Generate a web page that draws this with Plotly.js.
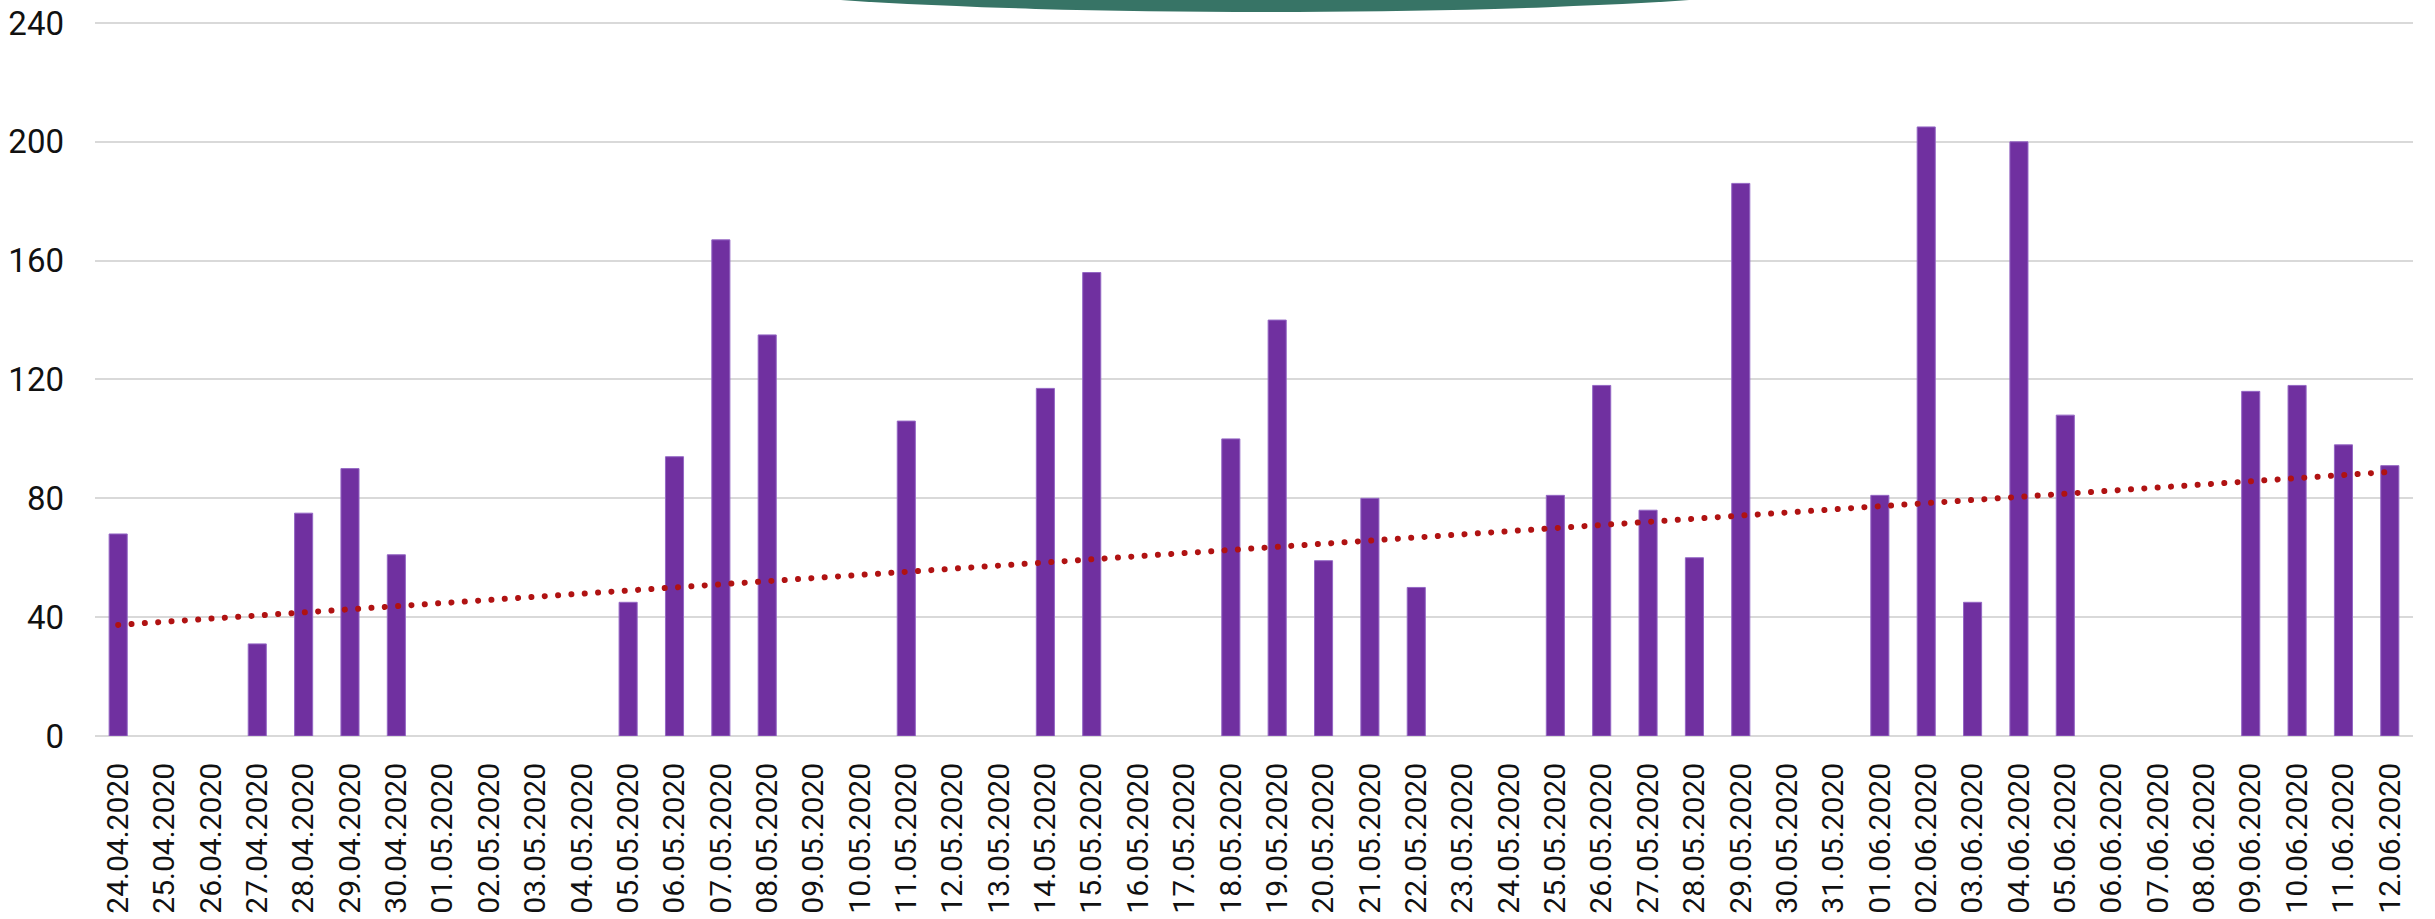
<!DOCTYPE html>
<html>
<head>
<meta charset="utf-8">
<script src="https://cdn.plot.ly/plotly-3.0.1.min.js"></script>
<style>
  html, body { margin: 0; padding: 0; background: #fff; }
  #chart { width: 2435px; height: 919px; }
  .scatterlayer .js-line { stroke-linecap: round !important; }
</style>
</head>
<body>
<div id="chart"></div>
<script>
// Categories (dates)
const dates = [
  "24.04.2020","25.04.2020","26.04.2020","27.04.2020","28.04.2020","29.04.2020","30.04.2020",
  "01.05.2020","02.05.2020","03.05.2020","04.05.2020","05.05.2020","06.05.2020","07.05.2020",
  "08.05.2020","09.05.2020","10.05.2020","11.05.2020","12.05.2020","13.05.2020","14.05.2020",
  "15.05.2020","16.05.2020","17.05.2020","18.05.2020","19.05.2020","20.05.2020","21.05.2020",
  "22.05.2020","23.05.2020","24.05.2020","25.05.2020","26.05.2020","27.05.2020","28.05.2020",
  "29.05.2020","30.05.2020","31.05.2020","01.06.2020","02.06.2020","03.06.2020","04.06.2020",
  "05.06.2020","06.06.2020","07.06.2020","08.06.2020","09.06.2020","10.06.2020","11.06.2020",
  "12.06.2020"
];

// Daily values (blank days = null)
const values = [
  68, null, null, 31, 75, 90, 61,
  null, null, null, null, 45, 94, 167,
  135, null, null, 106, null, null, 117,
  156, null, null, 100, 140, 59, 80,
  50, null, null, 81, 118, 76, 60,
  186, null, null, 81, 205, 45, 200,
  108, null, null, null, 116, 118, 98,
  91
];

// Linear trend line (at first and last date)
const trendDates = ["24.04.2020", "12.06.2020"];
const trendValues = [37.4, 88.9];

// Y axis ticks
const yTicks = [0, 40, 80, 120, 160, 200, 240];

const W = 2435, H = 919;
const mL = 95, mR = 22, mT = 20, mB = 183;
const plotW = W - mL - mR, plotH = H - mT - mB;
const px2x = p => (p - mL) / plotW;
const py2y = p => (H - mB - p) / plotH;

const traces = [
  {
    type: 'bar',
    x: dates,
    y: values,
    marker: { color: '#7030A0', line: { color: '#9467C4', width: 1 } },
    hoverinfo: 'x+y',
    showlegend: false
  },
  {
    type: 'scatter',
    mode: 'lines',
    x: trendDates,
    y: trendValues,
    line: { color: '#B01212', width: 6, dash: '0.01px,13.35px' },
    hoverinfo: 'skip',
    showlegend: false
  }
];

const layout = {
  width: W,
  height: H,
  margin: { l: mL, r: mR, t: mT, b: mB, pad: 0 },
  paper_bgcolor: '#ffffff',
  plot_bgcolor: '#ffffff',
  bargap: 0.61,
  showlegend: false,
  font: { family: 'Roboto, Liberation Sans, sans-serif', color: '#111111' },
  xaxis: {
    type: 'category',
    categoryorder: 'array',
    categoryarray: dates,
    tickangle: -90,
    tickfont: { family: 'Roboto, sans-serif', size: 30, color: '#111111' },
    showgrid: false,
    showline: false,
    zeroline: false,
    ticks: '',
    ticklabelstandoff: 20,
    automargin: false
  },
  yaxis: {
    range: [0, 241],
    tickvals: yTicks,
    ticktext: yTicks.map(String),
    tickfont: { family: 'Roboto, sans-serif', size: 33, color: '#111111' },
    showgrid: true,
    gridcolor: '#D9D9D9',
    gridwidth: 2,
    zeroline: true,
    zerolinecolor: '#D9D9D9',
    zerolinewidth: 2,
    showline: false,
    ticks: '',
    ticklabelstandoff: 30,
    automargin: false,
    fixedrange: true
  },
  shapes: [
    {
      type: 'circle',
      xref: 'paper', yref: 'paper',
      x0: px2x(665), x1: px2x(1865),
      y0: py2y(-70), y1: py2y(12),
      fillcolor: '#377466',
      line: { width: 0 },
      layer: 'above'
    }
  ]
};

Plotly.newPlot('chart', traces, layout, { displayModeBar: false, staticPlot: true });
</script>
</body>
</html>
